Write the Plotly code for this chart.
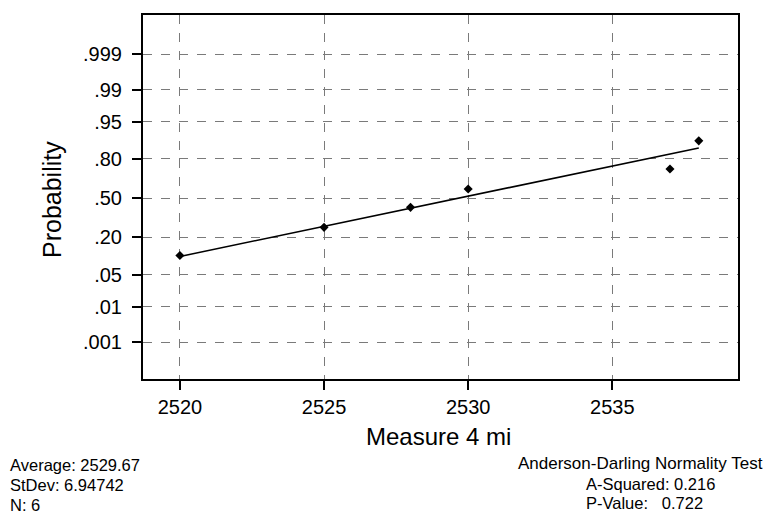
from statistics import NormalDist, mean, stdev
import plotly.graph_objects as go

# Measurements (sorted) and the normality-test results reported with them
measure = [2520, 2525, 2528, 2530, 2537, 2538]
prob_ticks = [0.001, 0.01, 0.05, 0.20, 0.50, 0.80, 0.95, 0.99, 0.999]
prob_labels = [".001", ".01", ".05", ".20", ".50", ".80", ".95", ".99", ".999"]
x_ticks = [2520, 2525, 2530, 2535]
a_squared = 0.216
p_value = 0.722

nd = NormalDist()
n = len(measure)
avg = mean(measure)
sd = stdev(measure)

# Median-rank plotting positions on the normal-score scale
ranks = [(i - 0.3) / (n + 0.4) for i in range(1, n + 1)]
z_pts = [nd.inv_cdf(p) for p in ranks]

# Least-squares line of the data on the normal scores, spanning the data
slope = sum(z * (x - avg) for z, x in zip(z_pts, measure)) / sum(z * z for z in z_pts)
x_fit = [min(measure), max(measure)]
z_fit = [(x - avg) / slope for x in x_fit]

tick_z = [nd.inv_cdf(p) for p in prob_ticks]

fig = go.Figure()
fig.add_trace(go.Scatter(x=x_fit, y=z_fit, mode="lines",
                         line=dict(color="black", width=1.6),
                         hoverinfo="skip", showlegend=False))
fig.add_trace(go.Scatter(x=measure, y=z_pts, mode="markers",
                         marker=dict(symbol="diamond", size=7, color="black"),
                         showlegend=False))

font = "Liberation Sans, Arial, sans-serif"
axis_common = dict(
    showline=True, linecolor="black", linewidth=2, mirror=True,
    ticks="outside", ticklen=9, tickwidth=1.5, tickcolor="black",
    showgrid=True, gridcolor="#7a7a7a", gridwidth=1, griddash="dash",
    zeroline=False, tickfont=dict(family=font, size=20, color="black"),
)

fig.update_xaxes(range=[2518.72, 2539.36], tickvals=x_ticks,
                 ticktext=[str(v) for v in x_ticks], **axis_common)
fig.update_yaxes(range=[-3.88, 3.93], tickvals=tick_z,
                 ticktext=prob_labels, ticklabelstandoff=6, **axis_common)

ann = []
ann.append(dict(text="Probability", x=52, y=200, textangle=-90, size=25))
ann.append(dict(text="Measure 4 mi", x=438, y=437, size=24))
left_lines = [f"Average: {avg:.2f}", f"StDev: {sd:.5f}", f"N: {n}"]
for i, t in enumerate(left_lines):
    ann.append(dict(text=t, x=8, y=465 + 20 * i, xanchor="left", size=16.5))
ann.append(dict(text="Anderson-Darling Normality Test", x=765, y=463,
                xanchor="right", size=17))
ann.append(dict(text=f"A-Squared: {a_squared:.3f}", x=584, y=484,
                xanchor="left", size=16.5))
ann.append(dict(text=f"P-Value:&nbsp;&nbsp; {p_value:.3f}", x=584, y=503,
                xanchor="left", size=16.5))

# Place annotations in pixel terms relative to the plot frame
L, R, T, B = 143, 738, 15, 379
W, H = R - L, B - T
for a in ann:
    fig.add_annotation(
        text=a["text"], xref="paper", yref="paper",
        x=(a["x"] - L) / W, y=(B - a["y"]) / H,
        xanchor=a.get("xanchor", "center"), yanchor="middle",
        textangle=a.get("textangle", 0), showarrow=False,
        font=dict(family=font, size=a.get("size", 24), color="black"),
    )

fig.update_layout(
    width=768, height=514,
    margin=dict(l=L, r=768 - R, t=T, b=514 - B),
    paper_bgcolor="white", plot_bgcolor="white",
    showlegend=False,
)

fig.write_html("out.html")
